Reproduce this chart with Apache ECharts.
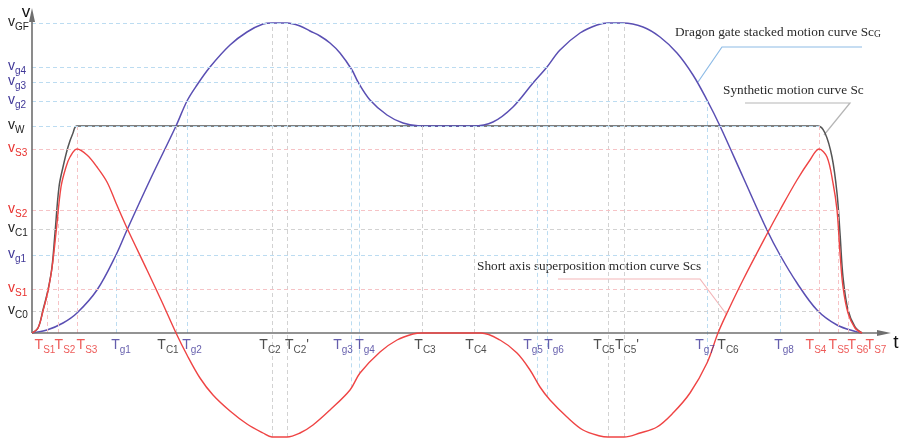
<!DOCTYPE html>
<html><head><meta charset="utf-8">
<script src="https://cdn.jsdelivr.net/npm/echarts@6/dist/echarts.min.js"></script>
<style>html,body{margin:0;padding:0;background:#fff}#c{width:906px;height:440px}</style>
</head><body><div id="c"></div>
<script>
// ---- tick labels and positions (time units / speed units) ----
const xTickNames = ["TS1","TS2","TS3","Tg1","TC1","Tg2","TC2","TC2'","Tg3","Tg4","TC3","TC4","Tg5","Tg6","TC5","TC5'","Tg7","TC6","Tg8","TS4","TS5","TS6","TS7"];
const xTickValues = [15,26,45,84,144,155,240,255,319,327,390,442,505,515,576,592,675,686,748,787,806,816,830];
const yTickNames = ["vGF","vg4","vg3","vg2","vW","vS3","vS2","vC1","vg1","vS1","vC0"];
const yTickValues = [310,266,251,232,207,184,123,104,78,44,22];

// ---- curves ----
const scPoints = [[0,0],[6,5],[11,23],[16,43],[20,66],[23,100],[27,146],[31,166],[36,186],[41,200],[45,207],[786,207],[793,200],[800,176],[805,140],[808,100],[811,56],[816,23],[823,6],[830,0]];
const scgPoints = [[0,0],[15,3],[31,10],[45,20],[65,43],[84,78],[95,103],[118,153],[144,207],[155,232],[165,248],[178,266],[198,288],[215,301],[231,309],[240,310],[255,310],[268,307],[278,302],[288,297],[298,290],[308,280],[320,263],[326,251],[338,233],[355,218],[371,210],[388,207],[441,207],[461,211],[481,226],[501,250],[515,266],[528,283],[548,300],[565,308],[576,310],[591,310],[611,306],[628,296],[645,280],[661,258],[675,233],[688,207],[711,156],[735,103],[748,78],[765,50],[785,23],[805,8],[825,1],[830,0]];
const scsPoints = [[0,0],[6,5],[11,22],[16,42],[20,65],[24,100],[29,146],[34,166],[38,176],[45,184],[55,178],[65,166],[75,151],[84,130],[95,105],[115,63],[130,31],[144,0],[155,-22],[168,-45],[181,-62],[198,-78],[215,-91],[231,-100],[240,-104],[255,-104],[268,-100],[281,-92],[298,-77],[318,-57],[328,-40],[348,-19],[365,-7],[381,-1],[390,0],[449,0],[468,-7],[485,-20],[498,-37],[508,-54],[518,-67],[535,-84],[551,-97],[568,-103],[576,-104],[592,-104],[608,-100],[625,-94],[641,-80],[658,-60],[675,-30],[686,0],[695,20],[711,53],[735,99],[748,123],[765,153],[778,173],[787,184],[795,176],[801,150],[805,123],[808,80],[811,46],[816,20],[823,5],[830,0]];

// ---- guide line extents (by tick name) ----
const xGuideTop = {"TS1":"vS1","TS2":"vS2","TS3":"vW","Tg1":"vg1","TC1":"vW","Tg2":"vg2","TC2":"vGF","TC2'":"vGF","Tg3":"vg4","Tg4":"vg3","TC3":"vW","TC4":"vW","Tg5":"vg3","Tg6":"vg4","TC5":"vGF","TC5'":"vGF","Tg7":"vg2","TC6":"vW","Tg8":"vg1","TS4":"vW","TS5":"vS2","TS6":"vS1"};
const xGuideDown = ["TC2","TC2'","Tg3","Tg4","Tg5","Tg6","TC5","TC5'","Tg7"];
const yGuideEnd = {"vGF":"TC5'","vg4":"Tg6","vg3":"Tg5","vg2":"Tg7","vW":"TS4","vS3":"TS4","vS2":"TS5","vC1":"TS5","vg1":"Tg8","vS1":"TS6","vC0":"TS4"};

// ---- styling ----
const xLabelNudge = {"TS1":-2,"TS2":7,"TS3":10,"Tg1":5,"TC1":-8,"Tg2":5,"TC2":-2,"TC2'":10,"Tg3":-8,"Tg4":6,"TC3":3,"TC4":2,"Tg5":-4,"Tg6":7,"TC5":-4,"TC5'":3,"Tg7":-2,"TC6":10,"Tg8":4,"TS4":-3,"TS5":1,"TS6":10,"TS7":14};
const LBL = {r:'#e8312e', b:'#3f3697', k:'#222222'};
const GUIDE = {r:'#f6c3c6', b:'#bcdcf1', k:'#d2d2d2'};
const FONT = '"Liberation Sans", Arial, sans-serif';
const SERIF = '"Liberation Serif", "Times New Roman", serif';

const xOf = n => xTickValues[xTickNames.indexOf(n)];
const yOf = n => yTickValues[yTickNames.indexOf(n)];
function interp(pts, t){
  for (let i=1;i<pts.length;i++){ if (t<=pts[i][0]){ const a=pts[i-1], b=pts[i]; return a[1]+(b[1]-a[1])*(t-a[0])/(b[0]-a[0]); } }
  return pts[pts.length-1][1];
}
function grpOf(name){ const c=name[1]; return c==='S'?'r':(c==='g'?'b':'k'); }
function grpGuideY(name){ const c=name[1]; return c==='S'?'r':(c==='C'?'k':'b'); }
function richLabel(name){
  const g = grpOf(name);
  let sub = name.slice(1), prime='';
  if (sub.endsWith("'")) { prime="'"; sub=sub.slice(0,-1); }
  return '{m'+g+'|'+name[0]+'}{s'+g+'|'+sub+'}'+(prime?'{m'+g+'|'+prime+'}':'');
}
const rich = {};
['r','b','k'].forEach(g=>{
  rich['m'+g] = {fontFamily:FONT, fontSize:14, color:LBL[g], lineHeight:16, verticalAlign:'top'};
  rich['s'+g] = {fontFamily:FONT, fontSize:10, color:LBL[g], lineHeight:10, padding:[8,0,0,0]};
});

function yLabel(v){
  const i = yTickValues.indexOf(v); if (i<0) return '';
  return richLabel(yTickNames[i]);
}

// guide segments
const guideData = [];
xTickNames.forEach((n,i)=>{
  if (!xGuideTop[n]) return;
  const t = xTickValues[i];
  const bottom = xGuideDown.includes(n) ? interp(scsPoints, t) : 0;
  guideData.push([{coord:[t,bottom], lineStyle:{color:GUIDE[grpOf(n)]}},{coord:[t,yOf(xGuideTop[n])]}]);
});
yTickNames.forEach((n,i)=>{
  const v = yTickValues[i];
  guideData.push([{coord:[0,v], lineStyle:{color:GUIDE[grpGuideY(n)]}},{coord:[xOf(yGuideEnd[n]),v]}]);
});

// time-axis tick labels, placed on the t axis (v = 0)
const xLabelData = xTickNames.map((n,i)=>({value:[xTickValues[i],0], name:n}));

const chart = echarts.init(document.getElementById('c'), null, {renderer:'canvas'});
chart.setOption({
  animation:false,
  backgroundColor:'#ffffff',
  grid:{left:32, right:8, top:8, bottom:1, containLabel:false, outerBoundsMode:'none'},
  xAxis:{type:'value', min:0, max:866,
    axisLine:{show:false}, axisTick:{show:false}, splitLine:{show:false}, axisLabel:{show:false}},
  yAxis:{type:'value', min:-106, max:325,
    axisLine:{show:false}, axisTick:{show:false}, splitLine:{show:false},
    axisLabel:{show:true, customValues:yTickValues, align:'left', margin:24, hideOverlap:false, formatter:yLabel, rich:rich}},
  series:[
    {type:'line', data:[], z:1, clip:false, silent:true,
     markLine:{silent:true, symbol:'none', label:{show:false},
       lineStyle:{type:[4,3], width:1}, data:guideData}},
    {type:'line', data:[], z:2, clip:false, silent:true,
     markLine:{silent:true, symbol:['none','triangle'], symbolSize:[6,14], label:{show:false},
       lineStyle:{type:'solid', width:1.6, color:'#6f6f6f'},
       data:[[{coord:[0,0]},{coord:[852,0]}],[{coord:[0,0]},{coord:[0,318]}]]}},
    {name:'Sc', type:'line', data:scPoints, showSymbol:false, smooth:0.35, z:3,
     lineStyle:{color:'#555555', width:1.5}},
    {name:'ScG', type:'line', data:scgPoints, showSymbol:false, smooth:0.35, z:4,
     lineStyle:{color:'#5a4fb3', width:1.5}},
    {name:'Scs', type:'line', data:scsPoints, showSymbol:false, smooth:0.35, z:5,
     lineStyle:{color:'#ef4444', width:1.4}},
    {name:'ticks', type:'scatter', data:xLabelData, symbolSize:0, silent:true, z:6, clip:false,
     itemStyle:{color:'rgba(0,0,0,0)'},
     label:{show:true, position:'bottom', distance:5, formatter:p=>richLabel(p.name), rich:rich},
     labelLayout:p=>({dx: xLabelNudge[xTickNames[p.dataIndex]]||0, hideOverlap:false})}
  ],
  graphic:[
    {type:'text', x:26, y:12, style:{text:'v', font:'17px '+FONT, fill:'#111', align:'center', verticalAlign:'middle'}},
    {type:'text', x:896, y:343, style:{text:'t', font:'19px '+FONT, fill:'#111', align:'center', verticalAlign:'middle'}},
    {type:'polyline', shape:{points:[[698,82],[722,47],[862,47]]}, style:{stroke:'#8dbbe6', lineWidth:1.2, fill:null}},
    {type:'text', x:675, y:33, style:{text:'Dragon gate stacked motion curve Sc{s|G}', font:'13.3px '+SERIF, fill:'#2a2a2a', verticalAlign:'middle',
      rich:{s:{fontSize:9.5, fontFamily:SERIF, verticalAlign:'bottom', lineHeight:13, fill:'#2a2a2a'}}}},
    {type:'polyline', shape:{points:[[824,135],[850,103],[745,103]]}, style:{stroke:'#b5b5b5', lineWidth:1.2, fill:null}},
    {type:'text', x:723, y:91, style:{text:'Synthetic motion curve Sc', font:'13.3px '+SERIF, fill:'#2a2a2a', verticalAlign:'middle'}},
    {type:'polyline', shape:{points:[[558,279],[700,279],[727,315]]}, style:{stroke:'#f3b5b8', lineWidth:1.2, fill:null}},
    {type:'text', x:477, y:267, style:{text:'Short axis superposition motion curve Scs', font:'13.3px '+SERIF, fill:'#2a2a2a', verticalAlign:'middle'}}
  ]
});
</script></body></html>
